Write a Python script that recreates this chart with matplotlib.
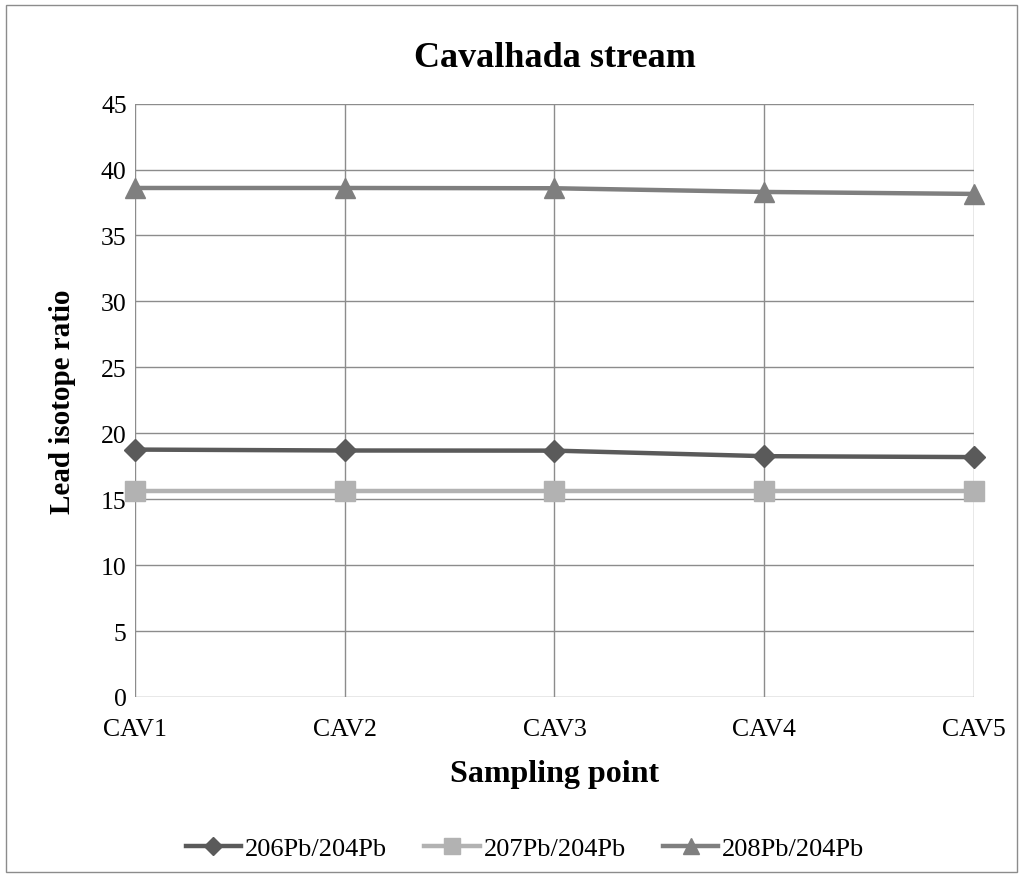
import numpy as np
import matplotlib.pyplot as plt
from matplotlib.patches import Rectangle

plt.rcParams["font.family"] = ["Liberation Serif", "DejaVu Serif"]

sites = ["CAV1", "CAV2", "CAV3", "CAV4", "CAV5"]
pb206 = [18.76, 18.69, 18.68, 18.26, 18.19]
pb207 = [15.65, 15.65, 15.65, 15.65, 15.65]
pb208 = [38.60, 38.60, 38.58, 38.30, 38.15]

series = [
    ("206Pb/204Pb", pb206, "#5a5a5a", "D", 11),
    ("207Pb/204Pb", pb207, "#b2b2b2", "s", 15),
    ("208Pb/204Pb", pb208, "#7f7f7f", "^", 15),
]

fig = plt.figure(figsize=(10.23, 8.79), dpi=100)
ax = fig.add_axes([0.132, 0.206, 0.820, 0.675])

x = np.arange(len(sites))
for label, vals, color, marker, ms in series:
    ax.plot(x, vals, color=color, lw=3.2, marker=marker, ms=ms, label=label,
            clip_on=False, zorder=3)

ax.set_xlim(0, len(sites) - 1)
ax.set_ylim(0, 45)
ax.set_yticks(np.arange(0, 46, 5))
ax.set_xticks(x)
ax.set_xticklabels(sites)
ax.grid(True, color="#8c8c8c", lw=1)
ax.set_axisbelow(True)
for s in ax.spines.values():
    s.set_visible(False)
ax.tick_params(axis="y", length=0, labelsize=18.5, pad=6)
ax.tick_params(axis="x", length=0, labelsize=18.5, pad=15)

ax.set_title("Cavalhada stream", fontsize=26, fontweight="bold", pad=27)
ax.set_xlabel("Sampling point", fontsize=23, fontweight="bold", labelpad=14)
ax.set_ylabel("Lead isotope ratio", fontsize=21, fontweight="bold", labelpad=18)

ax.legend(loc="center", bbox_to_anchor=(0.465, -0.255), ncol=3, frameon=False,
          fontsize=19, handlelength=2.1, handletextpad=0.15, columnspacing=1.4,
          markerscale=0.8)

fig.patches.append(Rectangle((0.006, 0.007), 0.988, 0.986, transform=fig.transFigure,
                             fill=False, edgecolor="#8c8c8c", lw=1))

fig.savefig("out.png", dpi=100)
